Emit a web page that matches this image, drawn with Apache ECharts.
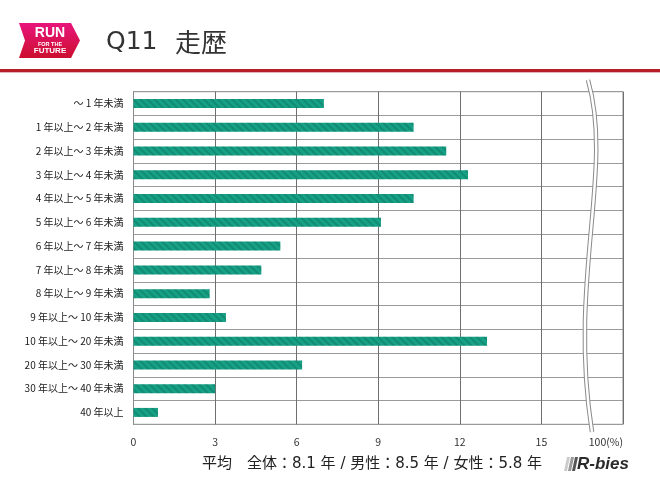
<!DOCTYPE html>
<html><head><meta charset="utf-8">
<script src="https://cdn.jsdelivr.net/npm/echarts@6/dist/echarts.min.js"></script>
<style>html,body{margin:0;padding:0;background:#fff}#c{width:660px;height:480px}</style>
</head><body><div id="c"></div>
<script>
var categories = ['～ 1 年未満','1 年以上～ 2 年未満','2 年以上～ 3 年未満','3 年以上～ 4 年未満','4 年以上～ 5 年未満','5 年以上～ 6 年未満','6 年以上～ 7 年未満','7 年以上～ 8 年未満','8 年以上～ 9 年未満','9 年以上～ 10 年未満','10 年以上～ 20 年未満','20 年以上～ 30 年未満','30 年以上～ 40 年未満','40 年以上'];
var values = [7.0, 10.3, 11.5, 12.3, 10.3, 9.1, 5.4, 4.7, 2.8, 3.4, 13.0, 6.2, 3.0, 0.9];
var xTickLabels = {0:'0',3:'3',6:'6',9:'9',12:'12',15:'15',18:'100(%)'};
var titleText = 'Q11 走歴';
var footerText = '平均　全体：8.1 年 / 男性：8.5 年 / 女性：5.8 年';

var FONT = '"Noto Sans CJK JP", "Noto Sans", sans-serif';
var FONT2 = '"DejaVu Sans", "Noto Sans CJK JP", sans-serif';
var chart = echarts.init(document.getElementById('c'), null, {renderer:'canvas'});

function breakCurve(w, color){
  return {type:'bezierCurve', silent:true, z:50,
    shape:{x1:588,y1:80,cpx1:614,cpy1:170,cpx2:568,cpy2:280,x2:592,y2:432},
    style:{stroke:color,lineWidth:w,fill:null}};
}

chart.setOption({
  animation:false,
  grid:{left:133.5,right:37,top:91.7,bottom:55.7,show:true,borderColor:'#8a8a8a',borderWidth:1},
  xAxis:{type:'value',min:0,max:18,interval:3,
    axisLine:{show:false},axisTick:{show:false},
    splitLine:{show:true,lineStyle:{color:'#6f6f6f',width:1}},
    axisLabel:{color:'#333',fontSize:10.5,fontFamily:FONT,margin:12,alignMaxLabel:'right',
      formatter:function(v){return xTickLabels[v]!==undefined?xTickLabels[v]:'';}}},
  yAxis:{type:'category',inverse:true,data:categories,
    axisLine:{show:true,lineStyle:{color:'#8a8a8a'}},axisTick:{show:false},
    splitLine:{show:true,lineStyle:{color:'#9a9a9a',width:1}},
    axisLabel:{color:'#1a1a1a',fontSize:10,fontFamily:FONT,margin:10}},
  series:[{type:'bar',data:values,barWidth:9,
    itemStyle:{color:'#16a085',
      decal:{symbol:'rect',symbolSize:1,dashArrayX:[[1,0]],dashArrayY:[2,3],rotation:Math.PI/4,color:'rgba(0,70,50,0.22)'}}}],
  graphic:[
    {type:'polygon',shape:{points:[[19,23],[71,23],[80,40.5],[71,58],[19,58],[25,40.5]]},
      style:{fill:new echarts.graphic.LinearGradient(0,0,0,1,[{offset:0,color:'#e8157c'},{offset:1,color:'#cc0f2e'}])}},
    {type:'text',x:50,y:33,style:{text:'RUN',fill:'#fff',font:'bold 14px "Liberation Sans", sans-serif',align:'center',verticalAlign:'middle'}},
    {type:'text',x:50,y:44.5,style:{text:'FOR THE',fill:'#fff',font:'bold 5.5px "Liberation Sans", sans-serif',align:'center',verticalAlign:'middle'}},
    {type:'text',x:50,y:51,style:{text:'FUTURE',fill:'#fff',font:'bold 8px "Liberation Sans", sans-serif',align:'center',verticalAlign:'middle'}},
    {type:'text',x:106,y:42,style:{text:'Q11',fill:'#333',font:'25px "DejaVu Sans", sans-serif',align:'left',verticalAlign:'middle'}},
    {type:'text',x:175,y:42,style:{text:'走歴',fill:'#333',font:'26px '+FONT,align:'left',verticalAlign:'middle'}},
    {type:'rect',shape:{x:0,y:69,width:660,height:3},style:{fill:'#b51d2b'}},
    {type:'rect',shape:{x:0,y:72,width:660,height:1},style:{fill:'#e2b6b9'}},
    breakCurve(4.5,'#8a8a8a'),
    breakCurve(2.5,'#ffffff'),
    {type:'text',x:202,y:464,style:{text:footerText,fill:'#222',font:'15px '+FONT2,align:'left',verticalAlign:'middle'}},
    {type:'polygon',shape:{points:[[567,457],[570,457],[567,471],[564,471]]},style:{fill:'#ccc'}},
    {type:'polygon',shape:{points:[[571,457],[574,457],[571,471],[568,471]]},style:{fill:'#999'}},
    {type:'polygon',shape:{points:[[575,457],[578,457],[575,471],[572,471]]},style:{fill:'#555'}},
    {type:'text',x:577,y:464,style:{text:'R-bies',fill:'#2a2a2a',font:'italic bold 17px "Liberation Sans", sans-serif',align:'left',verticalAlign:'middle'}}
  ]
});
</script></body></html>
